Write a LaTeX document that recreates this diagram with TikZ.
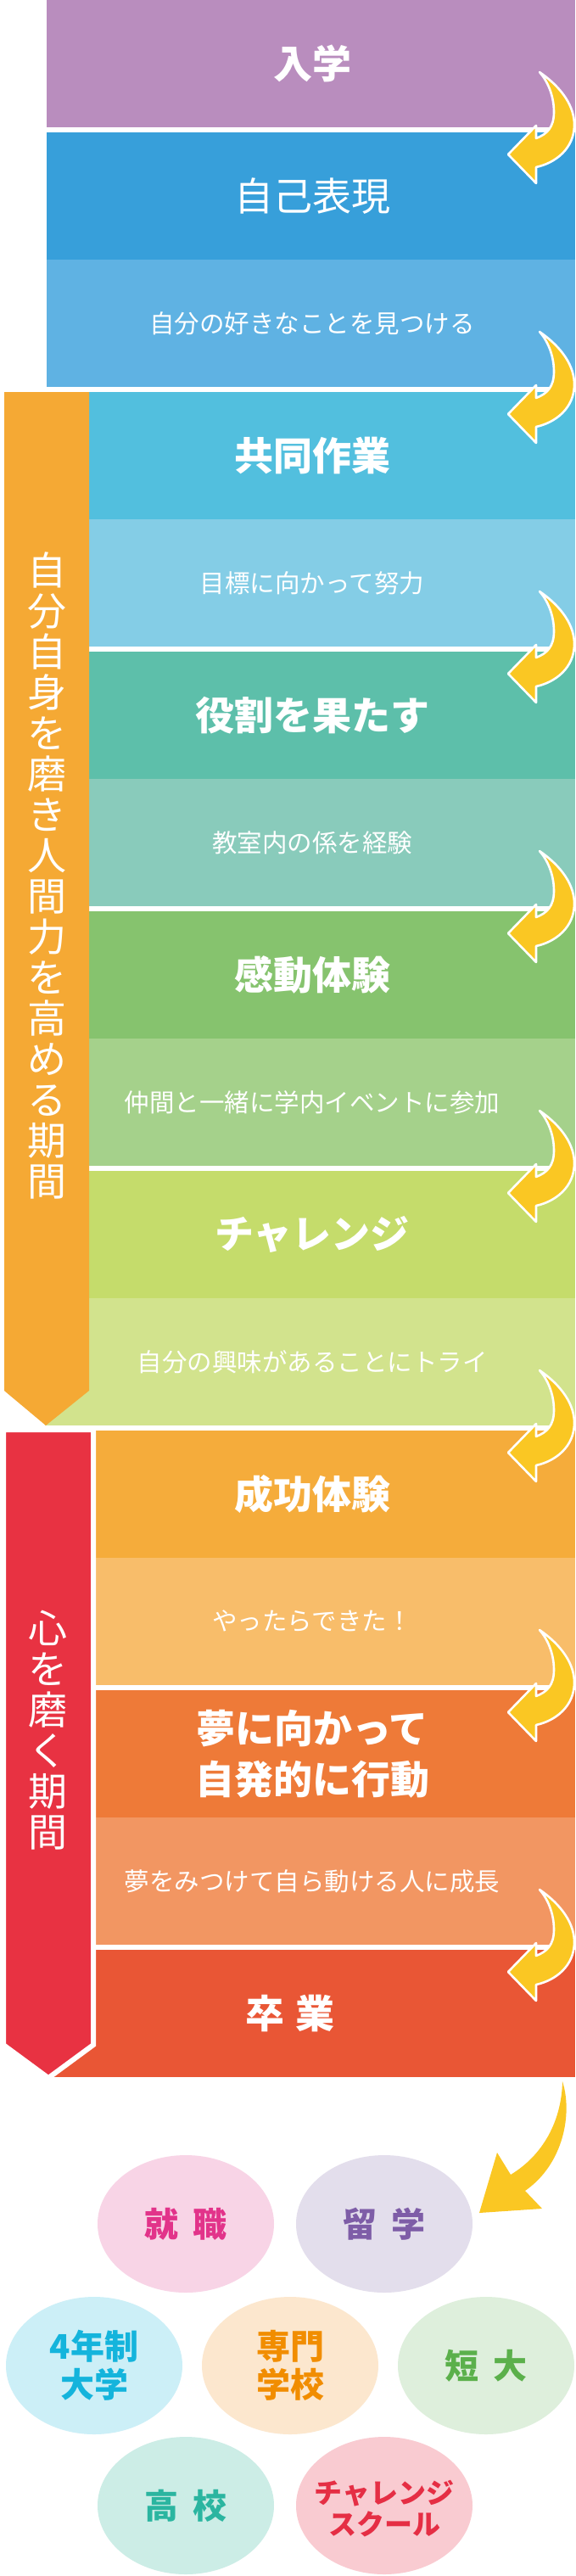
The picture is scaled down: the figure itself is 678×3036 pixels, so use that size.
\documentclass[tikz,border=0pt]{standalone}
\usepackage{fontspec}
\setmainfont{Noto Sans CJK JP}
\usetikzlibrary{shapes.geometric}
\definecolor{cPurple}{HTML}{B98DBE}
\definecolor{cBlue}{HTML}{379FDA}
\definecolor{cBlueL}{HTML}{5FB2E3}
\definecolor{cCyan}{HTML}{52BFDE}
\definecolor{cCyanL}{HTML}{84CDE6}
\definecolor{cTeal}{HTML}{5DBFAA}
\definecolor{cTealL}{HTML}{89CBBB}
\definecolor{cGreen}{HTML}{86C36E}
\definecolor{cGreenL}{HTML}{A5D18B}
\definecolor{cLime}{HTML}{C5DC6B}
\definecolor{cLimeL}{HTML}{D2E38D}
\definecolor{cOrange}{HTML}{F5AC3B}
\definecolor{cOrangeL}{HTML}{F8BD6A}
\definecolor{cDeep}{HTML}{EE7A38}
\definecolor{cDeepL}{HTML}{F29662}
\definecolor{cRedOr}{HTML}{E95635}
\definecolor{cBarOr}{HTML}{F5A934}
\definecolor{cBarRed}{HTML}{E83242}
\definecolor{cYellow}{HTML}{FAC723}
\definecolor{ePink}{HTML}{F8D4E6}\definecolor{tPink}{HTML}{E2338A}
\definecolor{eLav}{HTML}{E3DEEC}\definecolor{tLav}{HTML}{7E5DA7}
\definecolor{eSky}{HTML}{CCEFF7}\definecolor{tSky}{HTML}{14B4DC}
\definecolor{ePeach}{HTML}{FCE7CE}\definecolor{tPeach}{HTML}{F18D00}
\definecolor{eMint}{HTML}{DEEFDC}\definecolor{tMint}{HTML}{5BB04B}
\definecolor{eAqua}{HTML}{CCEDE6}\definecolor{tAqua}{HTML}{2BB5A0}
\definecolor{eRose}{HTML}{F9CBD1}\definecolor{tRose}{HTML}{E52E44}
\newcommand\turnarrow[1]{%
  \begin{scope}[shift={(0,#1)}]
    \filldraw[fill=cYellow, draw=white, line width=2.6pt, line join=round]
      (636,-65) .. controls (655,-52) and (677,-30) .. (677,-3)
      .. controls (677,25) and (655,42) .. (632,47)
      -- (632,66) -- (599,32) -- (632,-2) -- (632,13)
      .. controls (645,8) and (653,0) .. (653,-18)
      .. controls (653,-38) and (645,-55) .. (636,-65) -- cycle;
  \end{scope}}
\begin{document}
\begin{tikzpicture}[x=1pt,y=-1pt,
  head/.style={text=white, font=\bfseries\fontsize{46}{60}\selectfont, inner sep=0pt, align=center},
  headlight/.style={text=white, font=\fontsize{46}{60}\selectfont, inner sep=0pt},
  sub/.style={text=white, font=\fontsize{29.5}{34}\selectfont, inner sep=0pt},
  vert/.style={text=white, font=\fontsize{46}{48}\selectfont, align=center, inner sep=0pt},
  bubble/.style={ellipse, fill=#1, minimum width=208pt, minimum height=162pt, inner sep=0pt, align=center},
  btext/.style={text=#1, font=\bfseries\fontsize{40}{45}\selectfont}
]
\useasboundingbox (0,0) rectangle (678,3036);
\fill[white] (0,0) rectangle (678,3036);

% top section bands
\fill[cPurple] (55,0) rectangle (678,150);
\fill[cBlue] (55,156) rectangle (678,306);
\fill[cBlueL] (55,306) rectangle (678,456);
% orange section bands
\fill[cCyan] (105,462) rectangle (678,612);
\fill[cCyanL] (105,612) rectangle (678,762);
\fill[cTeal] (105,768) rectangle (678,918);
\fill[cTealL] (105,918) rectangle (678,1068);
\fill[cGreen] (105,1074) rectangle (678,1224);
\fill[cGreenL] (105,1224) rectangle (678,1374);
\fill[cLime] (105,1380) rectangle (678,1530);
\fill[cLimeL] (53,1530) rectangle (678,1680);
% red section bands
\fill[cOrange] (57,1686) rectangle (678,1836);
\fill[cOrangeL] (57,1836) rectangle (678,1986);
\fill[cDeep] (57,1992) rectangle (678,2142);
\fill[cDeepL] (57,2142) rectangle (678,2292);
\fill[cRedOr] (57,2298) rectangle (678,2448);

% side bars
\fill[cBarOr] (5,462) -- (105,462) -- (105,1639) -- (54,1680) -- (5,1639) -- cycle;
\filldraw[fill=cBarRed, draw=white, line width=6pt, line join=miter]
  (4,1685) -- (110,1685) -- (110,2410) -- (57,2449) -- (4,2410) -- cycle;

\node[vert] (ph1) at (55,1032) {自\\分\\自\\身\\を\\磨\\き\\人\\間\\力\\を\\高\\め\\る\\期\\間};
\node[vert] (ph2) at (57,2039) {心\\を\\磨\\く\\期\\間};

% texts
\node[head] (s1) at (368,75) {入学};
\node[headlight] (s2) at (368,231) {自己表現};
\node[sub] (d2) at (368,381) {自分の好きなことを見つける};
\node[head] (s3) at (368,537) {共同作業};
\node[sub] (d3) at (368,687) {目標に向かって努力};
\node[head] (s4) at (368,843) {役割を果たす};
\node[sub] (d4) at (368,993) {教室内の係を経験};
\node[head] (s5) at (368,1149) {感動体験};
\node[sub] (d5) at (368,1299) {仲間と一緒に学内イベントに参加};
\node[head] (s6) at (368,1455) {チャレンジ};
\node[sub] (d6) at (368,1605) {自分の興味があることにトライ};
\node[head] (s7) at (368,1761) {成功体験};
\node[sub] (d7) at (368,1911) {やったらできた！};
\node[head] (s8) at (368,2067) {夢に向かって\\自発的に行動};
\node[sub] (d8) at (368,2217) {夢をみつけて自ら動ける人に成長};
\node[head] (s9) at (342,2373) {卒\hspace{14pt}業};

% turn arrows
\turnarrow{150}
\turnarrow{456}
\turnarrow{762}
\turnarrow{1068}
\turnarrow{1374}
\turnarrow{1680}
\turnarrow{1986}
\turnarrow{2292}

% big arrow
\fill[cYellow] (663,2453) .. controls (675,2490) and (665,2550) .. (619,2582)
  -- (639,2603) -- (565,2608) -- (586,2537) -- (602,2563)
  .. controls (640,2540) and (662,2500) .. (663,2453) -- cycle;

% bubbles
\node[bubble=ePink] (e1) at (219,2621) {};
\node[btext=tPink] at (e1) {就\hspace{17pt}職};
\node[bubble=eLav] (e2) at (453,2621) {};
\node[btext=tLav] at (e2) {留\hspace{17pt}学};
\node[bubble=eSky] (e3) at (111,2788) {};
\node[btext=tSky, align=center] at (e3) {4年制\\大学};
\node[bubble=ePeach] (e4) at (342,2788) {};
\node[btext=tPeach, align=center] at (e4) {専門\\学校};
\node[bubble=eMint] (e5) at (573,2788) {};
\node[btext=tMint] at (e5) {短\hspace{17pt}大};
\node[bubble=eAqua] (e6) at (219,2953) {};
\node[btext=tAqua] at (e6) {高\hspace{17pt}校};
\node[bubble=eRose] (e7) at (453,2953) {};
\node[text=tRose, font=\bfseries\fontsize{33}{37}\selectfont, align=center] at ([yshift=-4pt]e7.center) {チャレンジ\\スクール};
\end{tikzpicture}
\end{document}
